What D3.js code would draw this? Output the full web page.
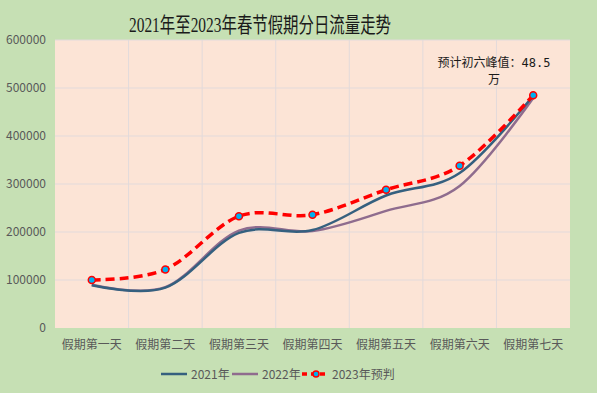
<!DOCTYPE html>
<html>
<head>
<meta charset="utf-8">
<script src="https://cdn.jsdelivr.net/npm/d3@7"></script>
<style>
html,body{margin:0;padding:0;background:#ffffff;}
svg{display:block;}
</style>
</head>
<body>
<svg id="chart" width="600" height="400"></svg>
<script>
const title = "2021年至2023年春节假期分日流量走势";
const categories = ["假期第一天","假期第二天","假期第三天","假期第四天","假期第五天","假期第六天","假期第七天"];
const series2021 = [89000, 84000, 198000, 204000, 276000, 323000, 484000];
const series2022 = [90000, 85000, 203000, 202000, 244000, 296000, 479000];
const series2023 = [100000, 122000, 233000, 236000, 288000, 338000, 485000];
const seriesNames = ["2021年","2022年","2023年预判"];
const yTicks = [0,100000,200000,300000,400000,500000,600000];
const annotationLines = ["预计初六峰值：48.5","万"];

const svg = d3.select("#chart");
const plot = {left: 55, right: 570, top: 40, bottom: 328};

svg.append("rect").attr("x",0).attr("y",0).attr("width",597).attr("height",393).attr("fill","#c6e0b4");
svg.append("rect").attr("x",plot.left).attr("y",plot.top).attr("width",plot.right-plot.left).attr("height",plot.bottom-plot.top).attr("fill","#fce4d6");

const x = d3.scaleBand().domain(categories).range([plot.left, plot.right]).padding(0);
const y = d3.scaleLinear().domain([0,600000]).range([plot.bottom, plot.top]);
const cx = d => x(d) + x.bandwidth()/2;

// gridlines
const grid = svg.append("g");
grid.selectAll("line.h").data(yTicks.filter(t=>t>0)).enter().append("line")
  .attr("x1",plot.left).attr("x2",plot.right)
  .attr("y1",d=>y(d)).attr("y2",d=>y(d))
  .attr("stroke","#e2dadb").attr("stroke-width",1);
grid.selectAll("line.v").data(categories.slice(1)).enter().append("line")
  .attr("x1",d=>x(d)).attr("x2",d=>x(d))
  .attr("y1",plot.top).attr("y2",plot.bottom)
  .attr("stroke","#e2dadb").attr("stroke-width",1);

// axes
const labelFont = "'Noto Sans CJK SC','Noto Sans',sans-serif";
const yAxis = d3.axisLeft(y).tickValues(yTicks).tickSize(0).tickPadding(9).tickFormat(d3.format("d"));
const yg = svg.append("g").attr("transform",`translate(${plot.left},0)`).call(yAxis);
yg.select(".domain").remove();
yg.selectAll("text").attr("fill","#595959").style("font-family",labelFont).style("font-size","12px");

const xAxis = d3.axisBottom(x).tickSize(0).tickPadding(12);
const xg = svg.append("g").attr("transform",`translate(0,${plot.bottom})`).call(xAxis);
xg.select(".domain").remove();
xg.selectAll("text").attr("fill","#595959").style("font-family",labelFont).style("font-size","12px");

// lines
const line = d3.line().x(d=>cx(d.c)).y(d=>y(d.v)).curve(d3.curveCardinal.tension(0));
const mk = arr => arr.map((v,i)=>({c:categories[i], v}));

svg.append("path").datum(mk(series2022)).attr("d",line)
  .attr("fill","none").attr("stroke","#8f6c8e").attr("stroke-width",2.5);
svg.append("path").datum(mk(series2021)).attr("d",line)
  .attr("fill","none").attr("stroke","#35607f").attr("stroke-width",2.5);
svg.append("path").datum(mk(series2023)).attr("d",line)
  .attr("fill","none").attr("stroke","#ff0000").attr("stroke-width",3.5)
  .attr("stroke-dasharray","9,5");
svg.append("g").selectAll("circle").data(mk(series2023)).enter().append("circle")
  .attr("cx",d=>cx(d.c)).attr("cy",d=>y(d.v)).attr("r",3.5)
  .attr("fill","#00b0f0").attr("stroke","#ff0000").attr("stroke-width",1.5);

// title
svg.append("text").attr("x",260).attr("y",32).attr("text-anchor","middle")
  .attr("textLength",262).attr("lengthAdjust","spacingAndGlyphs")
  .style("font-family","'Liberation Serif','Noto Sans CJK SC',serif").style("font-size","21px")
  .attr("fill","#1a1a1a").text(title);

// annotation
const ann = svg.append("text").attr("text-anchor","middle")
  .style("font-family","'DejaVu Sans Mono','Noto Sans CJK SC',monospace").style("font-size","12px").attr("fill","#1a1a1a");
annotationLines.forEach((t,i)=>{
  ann.append("tspan").attr("x",494).attr("y",67+i*16.5).text(t);
});

// legend
const leg = svg.append("g");
const legItems = [
  {name:seriesNames[0], x:161, color:"#35607f"},
  {name:seriesNames[1], x:232, color:"#8f6c8e"},
  {name:seriesNames[2], x:302, color:"#ff0000"}
];
const ly = 374;
legItems.forEach((it,i)=>{
  if(i<2){
    leg.append("line").attr("x1",it.x).attr("x2",it.x+26).attr("y1",ly).attr("y2",ly)
      .attr("stroke",it.color).attr("stroke-width",2.5);
  } else {
    leg.append("line").attr("x1",it.x).attr("x2",it.x+27).attr("y1",ly).attr("y2",ly)
      .attr("stroke",it.color).attr("stroke-width",3.5).attr("stroke-dasharray","5,4");
    leg.append("circle").attr("cx",it.x+14).attr("cy",ly).attr("r",3)
      .attr("fill","#00b0f0").attr("stroke","#ff0000").attr("stroke-width",1.5);
  }
  leg.append("text").attr("x",it.x+30).attr("y",ly+4.5)
    .style("font-family",labelFont).style("font-size","12px").attr("fill","#595959").text(it.name);
});
</script>
</body>
</html>
